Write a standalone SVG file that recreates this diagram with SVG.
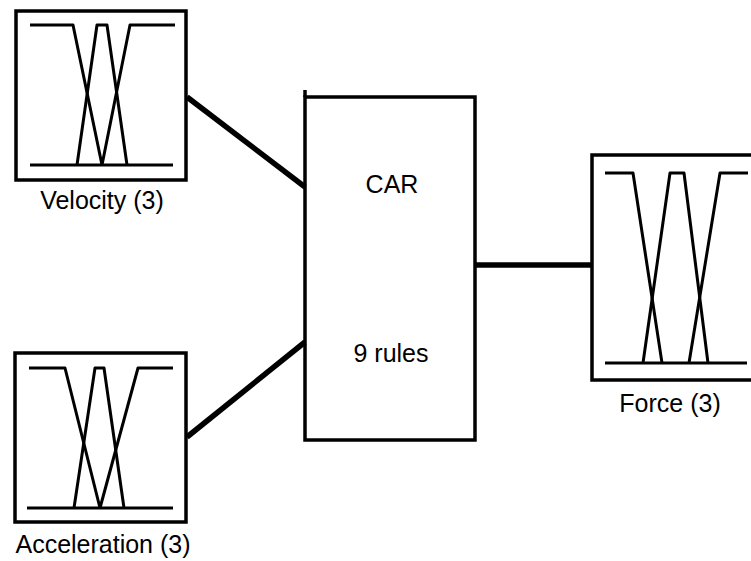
<svg xmlns="http://www.w3.org/2000/svg" width="751" height="561" viewBox="0 0 751 561">
<style>
.box{fill:none;stroke:#000;stroke-width:3.5}
.mf{fill:none;stroke:#000;stroke-width:3;stroke-linejoin:round}
.con{fill:none;stroke:#000;stroke-width:5.5}
.lbl{font-family:"Liberation Sans",Arial,sans-serif;font-size:25px;fill:#000;text-anchor:middle}
</style>
<rect width="751" height="561" fill="#fff"/>
<g id="connectors">
<line class="con" x1="187" y1="97" x2="305" y2="187"/>
<line class="con" x1="187" y1="437" x2="305" y2="342"/>
<line class="con" x1="475" y1="265" x2="592" y2="265"/>
</g>
<g id="velocity">
<rect class="box" x="16" y="11" width="170" height="169"/>
<polyline class="mf" points="30,25 73,25 102,165"/>
<polyline class="mf" points="77,165 97,25 107,25 127,165"/>
<polyline class="mf" points="102,165 130,25 175,25"/>
<line class="mf" x1="30" y1="165" x2="173" y2="165"/>
<text class="lbl" x="102" y="209">Velocity (3)</text>
</g>
<g id="acceleration">
<rect class="box" x="15" y="353" width="171" height="169"/>
<polyline class="mf" points="29,368 65,368 100,508"/>
<polyline class="mf" points="74,508 95,368 104,368 124,508"/>
<polyline class="mf" points="100,508 138,368 173,368"/>
<line class="mf" x1="27" y1="508" x2="173" y2="508"/>
<text class="lbl" x="103" y="553">Acceleration (3)</text>
</g>
<g id="car">
<rect class="box" x="305" y="97" width="170" height="343"/>
<line class="box" x1="305" y1="90" x2="305" y2="97"/>
<text class="lbl" x="392" y="193">CAR</text>
<text class="lbl" x="391" y="362">9 rules</text>
</g>
<g id="force">
<rect class="box" x="592" y="155" width="170" height="225"/>
<polyline class="mf" points="605,173 633,173 662,363"/>
<polyline class="mf" points="643,363 670,173 684,173 708,363"/>
<polyline class="mf" points="689,363 720,173 748,173"/>
<line class="mf" x1="605" y1="363" x2="747" y2="363"/>
<text class="lbl" x="670" y="412">Force (3)</text>
</g>
</svg>
